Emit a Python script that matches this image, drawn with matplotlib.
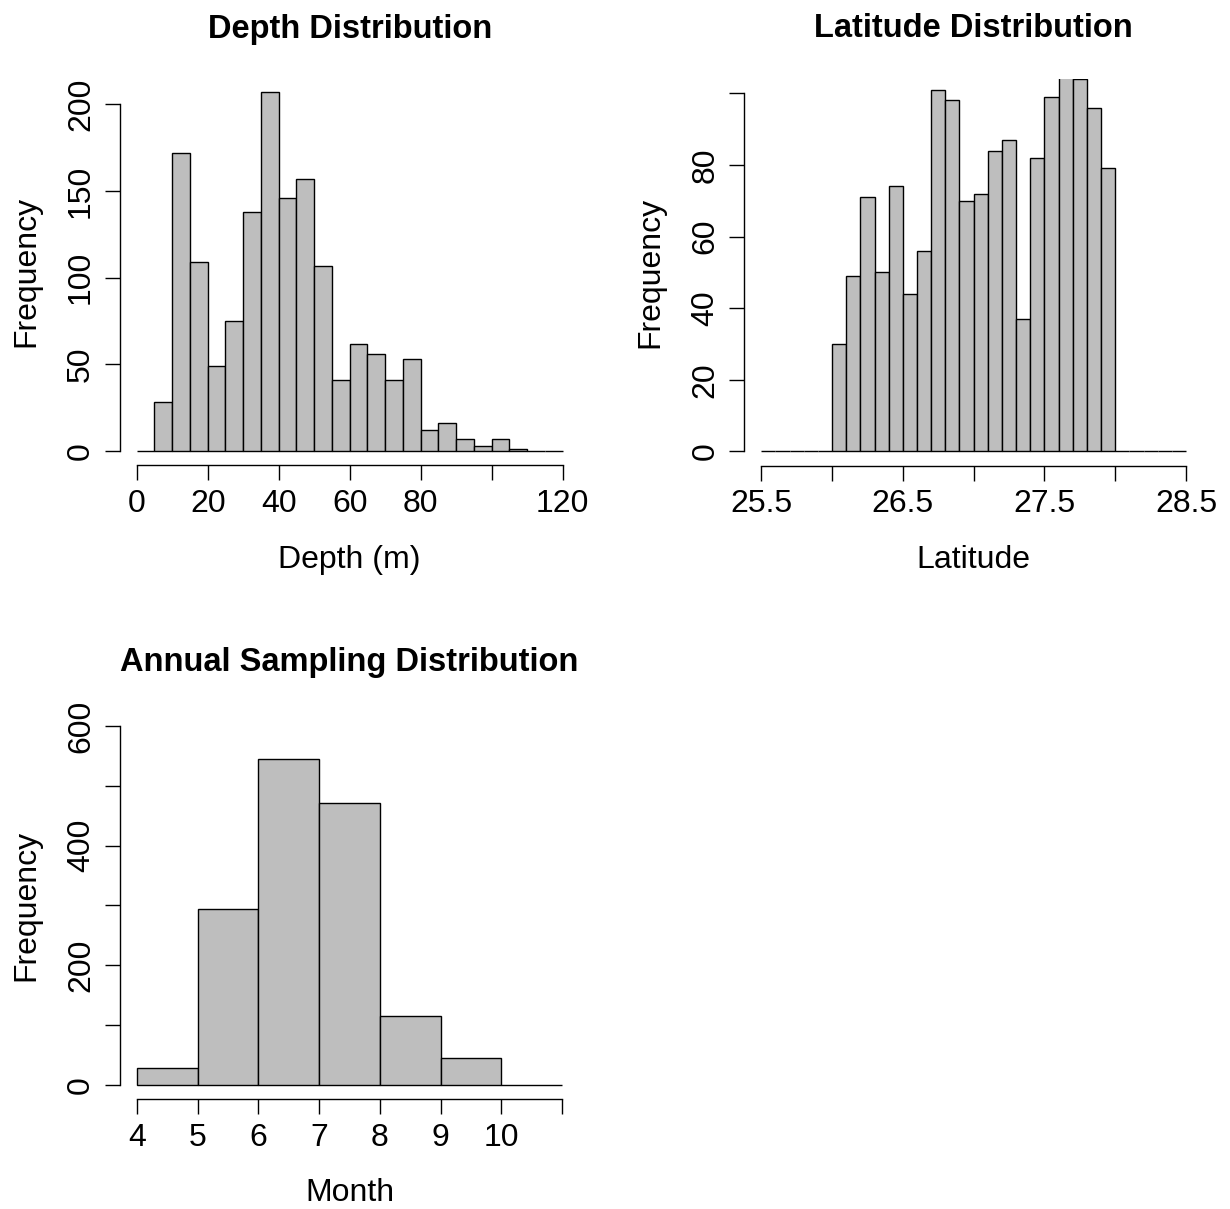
import numpy as np
import matplotlib
matplotlib.use("Agg")
import matplotlib.pyplot as plt

plt.rcParams['font.family'] = ['Liberation Sans', 'DejaVu Sans']

W, H = 1230, 1209

# depth histogram, 5 m bins from 0 to 120
depth_breaks = np.arange(0, 125, 5)
depth_counts = [0, 28, 172, 109, 49, 75, 138, 207, 146, 157, 107, 41,
                62, 56, 41, 53, 12, 16, 7, 3, 7, 1, 0, 0]

# latitude histogram, 0.1 degree bins from 25.5 to 28.5
lat_breaks = np.round(np.arange(25.5, 28.55, 0.1), 1)
lat_counts = [0, 0, 0, 0, 0,
              30, 49, 71, 50, 74, 44, 56, 101, 98, 70,
              72, 84, 87, 37, 82, 99, 106, 104, 96, 79,
              0, 0, 0, 0, 0]

# month histogram
month_breaks = np.arange(4, 12)
month_counts = [28, 294, 544, 471, 115, 45, 0]

BAR_FILL = '#BEBEBE'
FS = 23
LW = 1.0


def hist_panel(fig, box, breaks, counts, ylim, xticks, xlabels, yticks, ylabels,
               title, xlabel, title_pad=29):
    left, top, right, bottom = box
    ax = fig.add_axes([left / W, 1 - bottom / H, (right - left) / W, (bottom - top) / H])
    ax.bar(breaks[:-1], counts, width=np.diff(breaks), align='edge',
           color=BAR_FILL, edgecolor='black', linewidth=LW)

    # R style: 4% padding around the data range
    xr = breaks[-1] - breaks[0]
    ax.set_xlim(breaks[0] - 0.04 * xr, breaks[-1] + 0.04 * xr)
    yr = ylim[1] - ylim[0]
    ax.set_ylim(ylim[0] - 0.04 * yr, ylim[1] + 0.04 * yr)

    ax.set_xticks(xticks)
    ax.set_xticklabels(xlabels)
    ax.set_yticks(yticks)
    ax.set_yticklabels(ylabels, rotation=90, va='center')

    for s in ('top', 'right'):
        ax.spines[s].set_visible(False)
    ax.spines['left'].set_bounds(yticks[0], yticks[-1])
    ax.spines['bottom'].set_bounds(xticks[0], xticks[-1])
    for s in ('left', 'bottom'):
        ax.spines[s].set_linewidth(LW)

    ax.tick_params(axis='both', direction='out', length=10.5, width=LW,
                   labelsize=FS, pad=6.5)

    ax.set_title(title, fontsize=FS + 0.5, fontweight='bold', pad=title_pad)
    ax.set_xlabel(xlabel, fontsize=FS)
    ax.set_ylabel('Frequency', fontsize=FS)
    h = bottom - top
    w = right - left
    ax.xaxis.set_label_coords(0.5, -(544.5 - 465.3) / h)
    ax.yaxis.set_label_coords(-(119.7 - 41) / w, 0.5)
    return ax


fig = plt.figure(figsize=(W / 100, H / 100), dpi=100)

hist_panel(fig, (119.7, 77.9, 579.7, 465.35), depth_breaks, depth_counts, (0, 207),
           [0, 20, 40, 60, 80, 100, 120], ['0', '20', '40', '60', '80', '', '120'],
           [0, 50, 100, 150, 200], ['0', '50', '100', '150', '200'],
           'Depth Distribution', 'Depth (m)')

hist_panel(fig, (744.3, 79.0, 1203.0, 465.6), lat_breaks, lat_counts, (0, 100),
           [25.5, 26.0, 26.5, 27.0, 27.5, 28.0, 28.5],
           ['25.5', '', '26.5', '', '27.5', '', '28.5'],
           [0, 20, 40, 60, 80, 100], ['0', '20', '40', '60', '80', ''],
           'Latitude Distribution', 'Latitude', title_pad=30)

hist_panel(fig, (119.7, 711.65, 579.3, 1099.05), month_breaks, month_counts, (0, 600),
           [4, 5, 6, 7, 8, 9, 10, 11], ['4', '5', '6', '7', '8', '9', '10', ''],
           [0, 100, 200, 300, 400, 500, 600], ['0', '', '200', '', '400', '', '600'],
           'Annual Sampling Distribution', 'Month')

fig.savefig('out.png', dpi=100)
